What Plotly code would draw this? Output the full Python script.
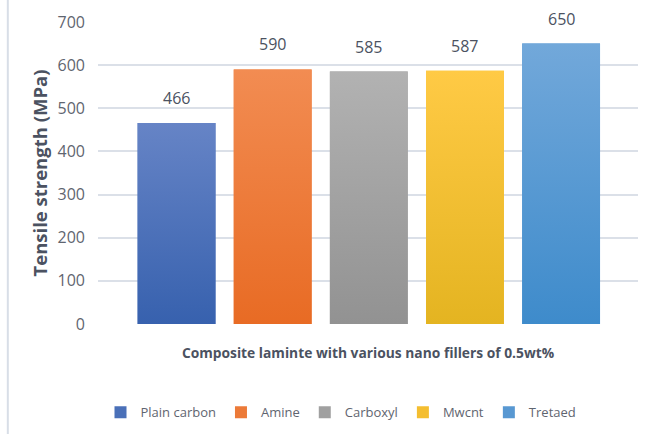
import plotly.graph_objects as go

# Tensile strength of composite laminates with different 0.5 wt% nano fillers
fillers = ["Plain carbon", "Amine", "Carboxyl", "Mwcnt", "Tretaed"]
strength_mpa = [466, 590, 585, 587, 650]

# Each bar fades from a lighter tone at the top to a deeper tone at the base
top_colors = ["#6684c6", "#f28c52", "#b2b2b2", "#ffca45", "#72a8da"]
base_colors = ["#3761ae", "#e86b24", "#929292", "#e4b421", "#3e8bcb"]
swatch_colors = ["#4a70b8", "#ec7a38", "#a0a0a0", "#f4be30", "#5898d2"]

y_ticks = [0, 100, 200, 300, 400, 500, 600, 700]

BAR_W = 0.81
TEXT = "#4b5261"
TICK = "#5f6570"

fig = go.Figure()

for i, (name, val) in enumerate(zip(fillers, strength_mpa)):
    # plain bar carries the legend entry
    fig.add_trace(go.Bar(
        x=[i], y=[val], width=BAR_W, name=name,
        marker=dict(color=swatch_colors[i], line=dict(width=0)),
        hoverinfo="skip",
    ))
    # gradient face of the same bar
    x0, x1 = i - BAR_W / 2, i + BAR_W / 2
    fig.add_trace(go.Scatter(
        x=[x0, x1, x1, x0, x0], y=[0, 0, val, val, 0],
        mode="lines", fill="toself", line=dict(width=0),
        fillgradient=dict(type="vertical", start=0, stop=val,
                          colorscale=[[0, base_colors[i]], [1, top_colors[i]]]),
        showlegend=False, hoverinfo="skip",
    ))
    fig.add_annotation(
        x=i, y=val, text=str(val), showarrow=False,
        yanchor="bottom", yshift=12,
        font=dict(family="Open Sans", size=16, color=TEXT),
    )

# thin frame line along the left edge of the chart area
fig.add_shape(type="line", xref="paper", yref="paper",
              x0=-0.167, x1=-0.167, y0=-0.37, y1=1.08,
              line=dict(color="#d8dee7", width=2))

fig.update_layout(
    width=665, height=434,
    margin=dict(l=98, r=27, t=22, b=110, autoexpand=False),
    paper_bgcolor="white", plot_bgcolor="white",
    font=dict(family="Open Sans", color=TEXT),
    showlegend=True,
    legend=dict(
        orientation="h", x=0.45, xanchor="center",
        yref="container", y=0.05, yanchor="middle",
        font=dict(family="Open Sans", size=13, color=TICK),
        traceorder="normal",
    ),
    xaxis=dict(
        range=[-0.817, 4.80], showticklabels=False, showgrid=False,
        zeroline=False, showline=False, ticks="",
        title=dict(text="<b>Composite laminte with various nano fillers of 0.5wt%</b>",
                   font=dict(family="Open Sans", size=13.8, color=TEXT), standoff=24),
        automargin=False,
    ),
    yaxis=dict(
        range=[0, 700], tickvals=y_ticks, showgrid=True,
        gridcolor="#dbe0e8", gridwidth=1.5, zeroline=False, showline=False,
        ticks="", ticklabelstandoff=12,
        tickfont=dict(family="Open Sans", size=16, color=TICK),
        title=dict(text="<b>Tensile strength (MPa)</b>",
                   font=dict(family="Open Sans", size=18.5, color=TEXT), standoff=5),
        automargin=False,
    ),
)

fig.write_html("out.html")
